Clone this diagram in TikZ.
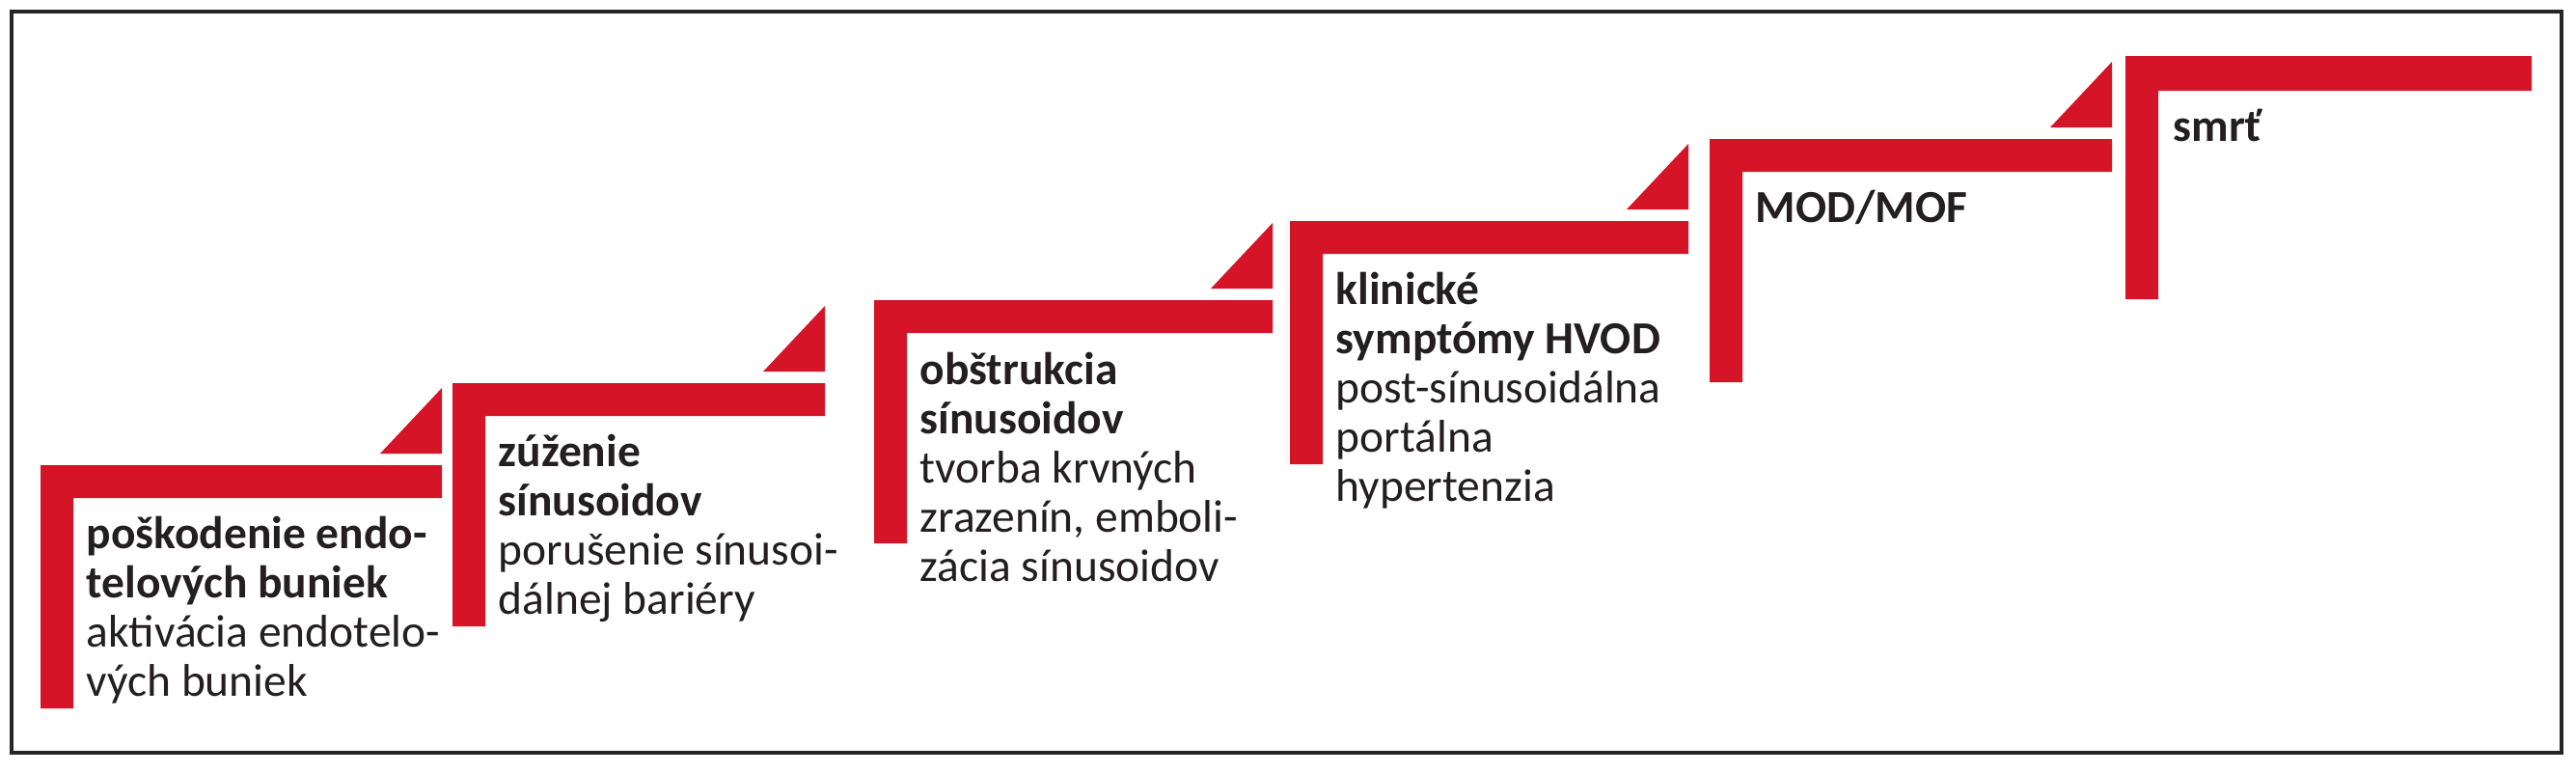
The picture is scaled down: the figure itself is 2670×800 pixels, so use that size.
\documentclass[tikz,border=0pt]{standalone}
\usepackage{fontspec}
\setmainfont{Carlito}
\usetikzlibrary{positioning}
\definecolor{stepred}{RGB}{213,20,40}
\definecolor{stepink}{RGB}{35,31,32}

\begin{document}
\begin{tikzpicture}[
    x=0.01cm,
    y=-0.01cm,
    stepbar/.style={fill=stepred},
    steplabel/.style={
        anchor=north west,
        inner sep=0pt,
        align=left,
        text=stepink,
        font=\fontsize{13.5}{14.5}\selectfont
    },
    outerframe/.style={draw=black!85, line width=1.1pt}
]
\useasboundingbox (0,0) rectangle (2670,800);
\draw[outerframe] (12,12) rectangle (2655,780);

% stair steps: left x / top y / length of the tread
\foreach \sx/\sy/\len in {42/482/416, 469/397/386, 906/311/413, 1337/229/413, 1772/144/417}{
    \fill[stepbar] (\sx,\sy) -- ++(\len,0) -- ++(0,34) -- ++(34-\len,0) -- ++(0,218) -- ++(-34,0) -- cycle;
    \fill[stepbar] (\sx+\len,\sy-12) -- ++(0,-68) -- ++(-64,68) -- cycle;
}
\fill[stepbar] (2203,58) -- ++(421,0) -- ++(0,36) -- ++(-387,0) -- ++(0,216) -- ++(-34,0) -- cycle;

\node[steplabel] (damage) at (89,532) {\strut\textbf{poškodenie endo-}\\\textbf{telových buniek}\\aktivácia endotelo-\\vých buniek};
\node[steplabel] (narrowing) at (516,447) {\strut\textbf{zúženie}\\\textbf{sínusoidov}\\porušenie sínusoi-\\dálnej bariéry};
\node[steplabel] (obstruction) at (953,362) {\strut\textbf{obštrukcia}\\\textbf{sínusoidov}\\tvorba krvných\\zrazenín, emboli-\\zácia sínusoidov};
\node[steplabel] (symptoms) at (1384,279) {\strut\textbf{klinické}\\\textbf{symptómy HVOD}\\post-sínusoidálna\\portálna\\hypertenzia};
\node[steplabel] (failure) at (1819,194) {\strut\textbf{MOD/MOF}};
\node[steplabel] (death) at (2252,110) {\strut\textbf{smrť}};

\end{tikzpicture}
\end{document}
